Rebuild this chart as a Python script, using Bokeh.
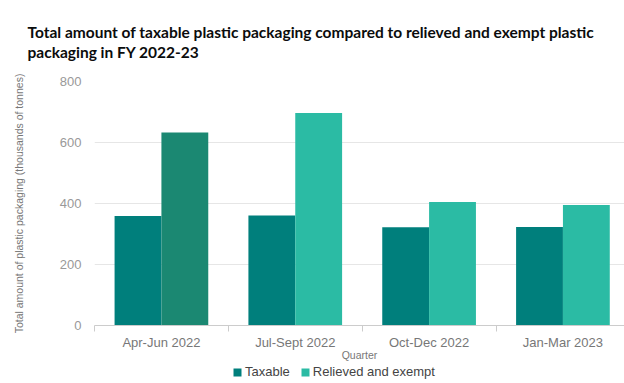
import numpy as np
from bokeh.plotting import figure
from bokeh.layouts import column
from bokeh.models import (ColumnDataSource, Range1d, FixedTicker, Legend, LegendItem)
from bokeh.transform import dodge
from bokeh.embed import file_html
from bokeh.resources import INLINE

quarters = ["Apr-Jun 2022", "Jul-Sept 2022", "Oct-Dec 2022", "Jan-Mar 2023"]
taxable = [359, 361, 322, 323]
relieved = [633, 697, 405, 395]
taxable_colors = ["#007f7c", "#007f7c", "#007f7c", "#007f7c"]
relieved_colors = ["#1b8872", "#2bbba4", "#2bbba4", "#2bbba4"]
y_ticks = [0, 200, 400, 600, 800]

xpos = np.arange(len(quarters)) + 0.5
src = ColumnDataSource(dict(x=xpos, taxable=taxable, relieved=relieved,
                            tc=taxable_colors, rc=relieved_colors))

p = figure(width=624, height=363, output_backend="svg", toolbar_location=None,
           x_range=Range1d(0, 3.96), y_range=Range1d(0, 800),
           min_border_left=94, min_border_right=0, min_border_top=81,
           min_border_bottom=37)
p.outline_line_color = None
p.background_fill_color = "white"
p.border_fill_color = "white"

p.title.text = ("Total amount of taxable plastic packaging compared to relieved and exempt plastic\n"
                "packaging in FY 2022-23")
p.title.text_font = "Lato"
p.title.text_font_size = "15.5px"
p.title.text_font_style = "bold"
p.title.text_color = "#0b0c0c"
p.title.text_line_height = 1.1
p.title.offset = -67
p.title.standoff = 41

r1 = p.vbar(x=dodge("x", -0.175, range=p.x_range), top="taxable", width=0.35,
            source=src, fill_color="tc", line_color=None)
r2 = p.vbar(x=dodge("x", 0.175, range=p.x_range), top="relieved", width=0.35,
            source=src, fill_color="rc", line_color=None)

# x axis
xa = p.xaxis[0]
xa.ticker = FixedTicker(ticks=list(xpos), minor_ticks=[0, 1, 2, 3, 4])
xa.major_label_overrides = {float(v): q for v, q in zip(xpos, quarters)}
xa.major_tick_out = 0
xa.major_tick_in = 0
xa.minor_tick_out = 6
xa.minor_tick_in = 0
xa.minor_tick_line_color = "#cccccc"
xa.axis_line_color = "#cccccc"
xa.major_label_text_font = "Liberation Sans"
xa.major_label_text_font_size = "13px"
xa.major_label_text_color = "#777777"
xa.major_label_standoff = 3
xa.axis_label = "Quarter"
xa.axis_label_text_font = "Liberation Sans"
xa.axis_label_text_font_size = "10.5px"
xa.axis_label_text_font_style = "normal"
xa.axis_label_text_color = "#777777"
xa.axis_label_standoff = -4

# y axis
ya = p.yaxis[0]
ya.ticker = FixedTicker(ticks=y_ticks)
ya.axis_line_color = None
ya.major_tick_line_color = None
ya.minor_tick_line_color = None
ya.major_label_text_font = "Liberation Sans"
ya.major_label_text_font_size = "13px"
ya.major_label_text_color = "#999999"
ya.major_label_standoff = 7
ya.axis_label = "Total amount of plastic packaging (thousands of tonnes)"
ya.axis_label_text_font = "Liberation Sans"
ya.axis_label_text_font_size = "10.5px"
ya.axis_label_text_font_style = "normal"
ya.axis_label_text_color = "#777777"
ya.axis_label_standoff = 32

p.xgrid.grid_line_color = None
p.ygrid.grid_line_color = "#e6e6e6"

# legend strip below the chart (same series, drawn off-view so only the legend shows)
pl = figure(width=624, height=20, output_backend="svg", toolbar_location=None,
            x_range=Range1d(-100, -99), y_range=Range1d(0, 800),
            x_axis_location=None, y_axis_location=None,
            min_border_left=0, min_border_right=0, min_border_top=0, min_border_bottom=0)
pl.outline_line_color = None
pl.xgrid.grid_line_color = None
pl.ygrid.grid_line_color = None
l1 = pl.vbar(x="x", top="taxable", width=0.35, source=src, fill_color="tc", line_color=None)
l2 = pl.vbar(x="x", top="relieved", width=0.35, source=src, fill_color="rc", line_color=None)

legend = Legend(items=[LegendItem(label="Taxable", renderers=[l1], index=0),
                       LegendItem(label="Relieved and exempt", renderers=[l2], index=1)],
                orientation="horizontal", location=(138, 4),
                label_text_font="Liberation Sans", label_text_font_size="13px",
                label_text_color="#444444", glyph_width=10, glyph_height=10,
                label_standoff=3, spacing=10, padding=0, margin=0,
                border_line_color=None, background_fill_alpha=0)
pl.add_layout(legend, "center")

layout = column(p, pl, spacing=0)
open("out.html", "w").write(file_html(layout, INLINE))
